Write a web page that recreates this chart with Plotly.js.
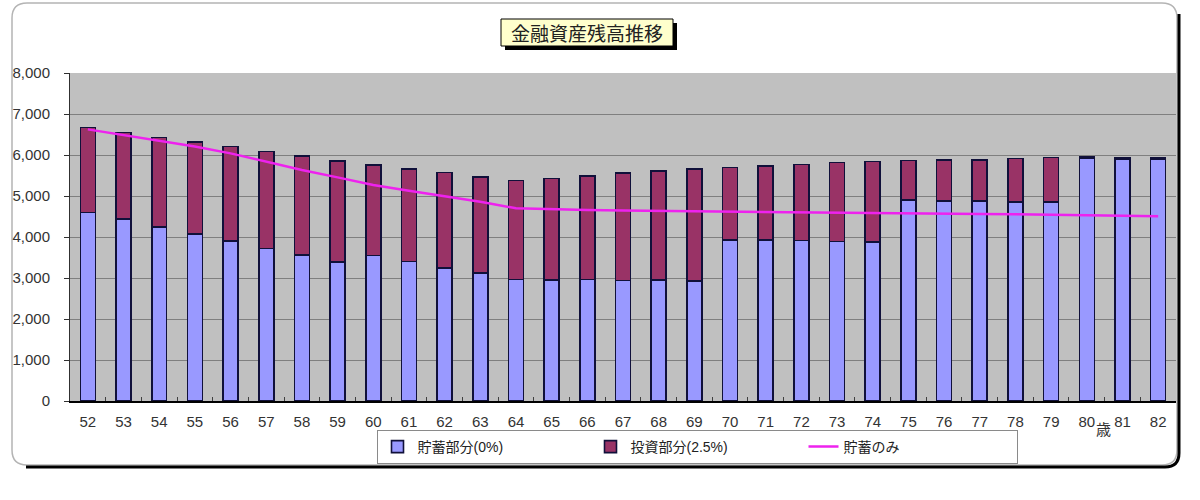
<!DOCTYPE html>
<html>
<head>
<meta charset="utf-8">
<script src="https://cdn.plot.ly/plotly-3.0.1.min.js"></script>
<style>html,body{margin:0;padding:0;background:#fff;}#chart{width:1200px;height:500px;}</style>
</head>
<body>
<div id="chart"></div>
<script>
// ---- data ----
const ages = ["52","53","54","55","56","57","58","59","60","61","62","63","64","65","66","67","68","69","70","71","72","73","74","75","76","77","78","79","80","81","82"];
const savingsPart = [4600,4440,4250,4070,3900,3720,3560,3390,3545,3405,3250,3115,2965,2950,2965,2935,2945,2925,3920,3920,3910,3895,3885,4900,4885,4880,4860,4855,5910,5895,5895];
const investPart  = [2075,2105,2180,2245,2305,2370,2415,2470,2210,2255,2320,2355,2410,2480,2525,2620,2665,2735,1780,1810,1860,1920,1960,970,995,1005,1050,1080,35,30,30];
const savingsOnly = [6625,6490,6350,6205,6040,5840,5635,5455,5270,5130,5000,4860,4700,4675,4660,4645,4635,4625,4620,4610,4600,4595,4585,4575,4570,4560,4555,4545,4535,4520,4505];
const seriesNames = ["貯蓄部分(0%)","投資部分(2.5%)","貯蓄のみ"];
const chartTitle = "金融資産残高推移";
const ageUnit = "歳";

// ---- geometry helpers (pixel -> paper) ----
const W = 1200, H = 500;
const M = {l:70, r:24, t:73, b:99};
const PW = W - M.l - M.r, PH = H - M.t - M.b;
const px = x => (x - M.l) / PW;
const py = y => (H - M.b - y) / PH;
function P(x,y){ return px(x).toFixed(5)+","+py(y).toFixed(5); }
function roundRect(x0,y0,x1,y1,r){
  return "M"+P(x0+r,y0)+" L"+P(x1-r,y0)+" Q"+P(x1,y0)+" "+P(x1,y0+r)+
         " L"+P(x1,y1-r)+" Q"+P(x1,y1)+" "+P(x1-r,y1)+
         " L"+P(x0+r,y1)+" Q"+P(x0,y1)+" "+P(x0,y1-r)+
         " L"+P(x0,y0+r)+" Q"+P(x0,y0)+" "+P(x0+r,y0)+" Z";
}
const shadowPath = "M"+P(26,467)+" L"+P(1165,467)+" Q"+P(1179,467)+" "+P(1179,453)+" L"+P(1179,14);

const barLine = {color:"#10103a", width:1.6};
const traces = [
  {type:"bar", name:seriesNames[0], x:ages, y:savingsPart,
   marker:{color:"#9999ff", line:barLine}},
  {type:"bar", name:seriesNames[1], x:ages, y:investPart,
   marker:{color:"#993366", line:barLine}},
  {type:"scatter", mode:"lines", name:seriesNames[2], x:ages, y:savingsOnly,
   line:{color:"#ee22ee", width:2.5}}
];

const layout = {
  width:W, height:H,
  margin:M,
  paper_bgcolor:"#ffffff",
  plot_bgcolor:"#c0c0c0",
  barmode:"stack",
  bargap:0.58,
  showlegend:true,
  font:{family:"'Liberation Sans', 'Noto Sans CJK JP', sans-serif", size:15, color:"#333333"},
  xaxis:{
    type:"category", range:[-0.5,30.5],
    showline:true, linecolor:"#000000", linewidth:1.5,
    ticks:"inside", tickson:"boundaries", ticklen:4, tickcolor:"#404040",
    showgrid:false, zeroline:false,
    tickfont:{size:15, color:"#333333"}, ticklabelstandoff:6
  },
  yaxis:{
    range:[0,8000], dtick:1000, tickformat:",d",
    showline:true, linecolor:"#303030", linewidth:1,
    ticks:"outside", ticklen:5, tickcolor:"#303030",
    gridcolor:"#7f7f7f", gridwidth:1, zeroline:false,
    tickfont:{size:15, color:"#333333"}, ticklabelstandoff:11
  },
  legend:{
    orientation:"h", x:px(697), xanchor:"center", y:py(430), yanchor:"top",
    bgcolor:"#ffffff", bordercolor:"#8a8a8a", borderwidth:1,
    entrywidth:168, font:{size:14, color:"#222222"},
    traceorder:"normal"
  },
  shapes:[
    {type:"path", xref:"paper", yref:"paper", path:roundRect(12,3,1177,465,15),
     line:{color:"#b4b4b4", width:1.5}, fillcolor:"rgba(0,0,0,0)", layer:"below"},
    {type:"path", xref:"paper", yref:"paper", path:shadowPath,
     line:{color:"#000000", width:3}, fillcolor:"rgba(0,0,0,0)", layer:"above"},
    {type:"rect", xref:"paper", yref:"paper", x0:px(505), x1:px(677), y0:py(23), y1:py(50),
     fillcolor:"#000000", line:{width:0}, layer:"above"},
    {type:"rect", xref:"paper", yref:"paper", x0:px(501), x1:px(673), y0:py(19), y1:py(46),
     fillcolor:"#ffffcc", line:{color:"#000000", width:1}, layer:"above"}
  ],
  annotations:[
    {xref:"paper", yref:"paper", x:px(587), y:py(32.5), xanchor:"center", yanchor:"middle",
     text:chartTitle, showarrow:false, font:{family:"'Noto Sans CJK JP', sans-serif", size:19, color:"#222222"}},
    {xref:"paper", yref:"paper", x:px(1103), y:py(428), xanchor:"center", yanchor:"middle",
     text:ageUnit, showarrow:false, font:{family:"'Noto Sans CJK JP', sans-serif", size:15, color:"#333333"}}
  ]
};

Plotly.newPlot("chart", traces, layout, {displayModeBar:false, staticPlot:true});
</script>
</body>
</html>
